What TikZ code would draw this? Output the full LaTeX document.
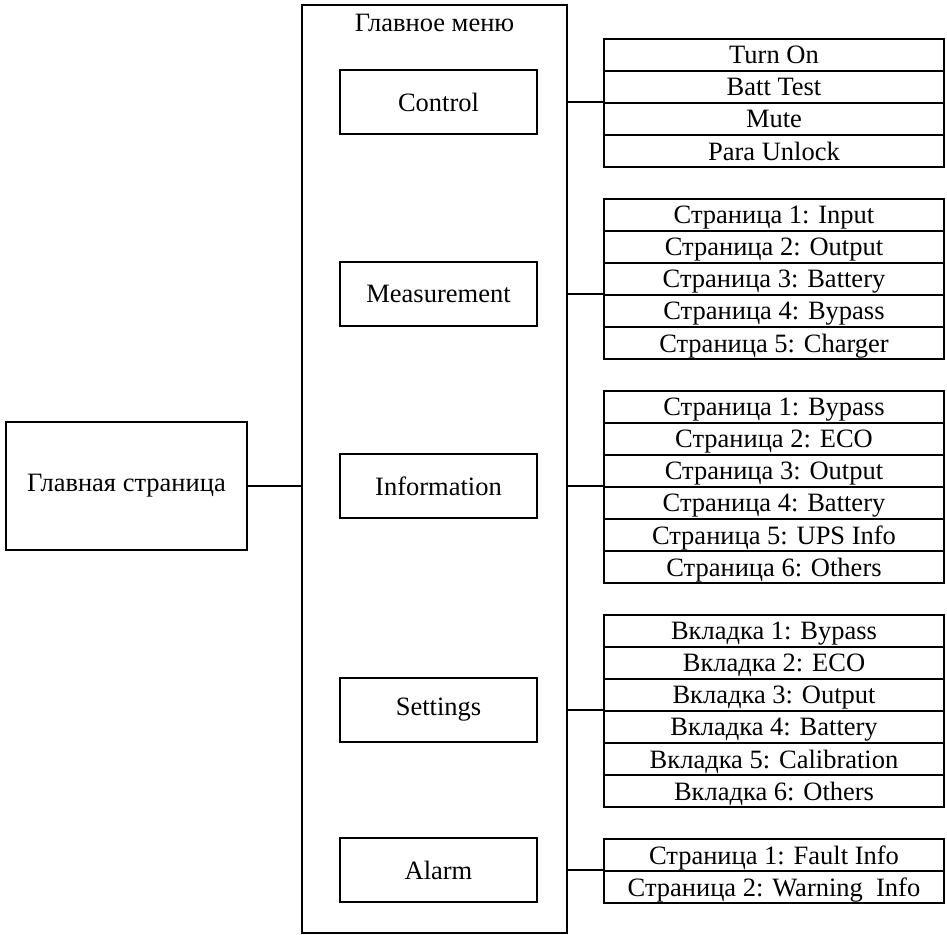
\documentclass[tikz,border=0pt]{standalone}
\usepackage{fontspec}
\setmainfont{Liberation Serif}

\begin{document}
\begin{tikzpicture}[x=1pt,y=-1pt,line width=1.7pt,
  font=\fontsize{26.5}{30}\selectfont,
  menubox/.style={draw,minimum width=197pt,minimum height=64pt,inner sep=0pt},
  subitem/.style={draw,minimum width=340pt,minimum height=32pt,inner sep=0pt,text depth=0pt,yshift=-1pt}]
\useasboundingbox (0,0) rectangle (947,934);

\node[draw,minimum width=241pt,minimum height=128pt,inner sep=0pt] (main) at (126.5,486) {Главная страница};
\node[draw,minimum width=265pt,minimum height=928pt,inner sep=0pt] (menu) at (434.5,469) {};
\node (title) at (434.5,23) {Главное меню};

\foreach \name/\txt/\yc in {ctrl/Control/102,meas/Measurement/294,info/Information/486,sett/Settings/710,alarm/Alarm/870}
  \node[menubox] (\name) at (438.5,\yc) {\txt};

\foreach \txt [count=\i] in {Turn On,Batt Test,Mute,Para Unlock}
  \node[subitem] (ctrl\i) at (774,{22+32*\i}) {\txt};
\foreach \txt [count=\i] in {Страница 1: Input,Страница 2: Output,Страница 3: Battery,Страница 4: Bypass,Страница 5: Charger}
  \node[subitem] (meas\i) at (774,{182+32*\i}) {\txt};
\foreach \txt [count=\i] in {Страница 1: Bypass,Страница 2: ECO,Страница 3: Output,Страница 4: Battery,Страница 5: UPS Info,Страница 6: Others}
  \node[subitem] (info\i) at (774,{374+32*\i}) {\txt};
\foreach \txt [count=\i] in {Вкладка 1: Bypass,Вкладка 2: ECO,Вкладка 3: Output,Вкладка 4: Battery,Вкладка 5: Calibration,Вкладка 6: Others}
  \node[subitem] (sett\i) at (774,{598+32*\i}) {\txt};
\foreach \txt [count=\i] in {Страница 1: Fault Info,Страница 2: Warning~~Info}
  \node[subitem] (alarm\i) at (774,{822+32*\i}) {\txt};

\draw (main.east) -- (main.east -| menu.west);
\foreach \name in {ctrl,meas,info,sett,alarm}
  \draw (\name.east -| menu.east) -- (\name.east -| \name1.west);
\end{tikzpicture}
\end{document}
